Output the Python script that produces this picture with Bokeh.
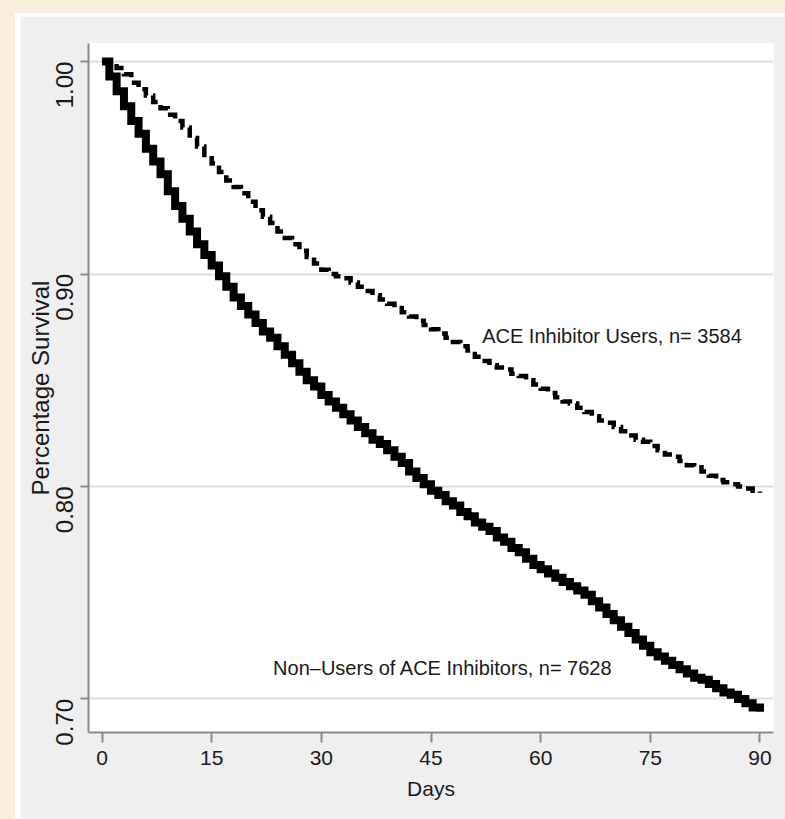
from bokeh.plotting import figure
from bokeh.models import FixedTicker, NumeralTickFormatter, Range1d, Label
from bokeh.layouts import column
from bokeh.embed import file_html
from bokeh.resources import INLINE
from math import pi

# ---------------- data ----------------
days = list(range(0, 91))

non_users = [
    1.000, 0.993, 0.986, 0.979, 0.972, 0.966, 0.959, 0.953, 0.947, 0.939,
    0.932, 0.926, 0.920, 0.914, 0.909, 0.904, 0.899, 0.894, 0.889, 0.885,
    0.881, 0.877, 0.873, 0.870, 0.866, 0.862, 0.858, 0.854, 0.850, 0.847,
    0.843, 0.840, 0.837, 0.834, 0.831, 0.828, 0.825, 0.822, 0.820, 0.817,
    0.814, 0.811, 0.807, 0.804, 0.801, 0.798, 0.796, 0.793, 0.791, 0.788,
    0.786, 0.783, 0.781, 0.779, 0.776, 0.774, 0.771, 0.769, 0.766, 0.763,
    0.761, 0.759, 0.757, 0.755, 0.753, 0.751, 0.749, 0.746, 0.743, 0.740,
    0.737, 0.734, 0.731, 0.728, 0.725, 0.722, 0.720, 0.718, 0.716, 0.714,
    0.712, 0.710, 0.709, 0.707, 0.705, 0.703, 0.702, 0.700, 0.698, 0.696,
    0.694,
]

ace_users = [
    1.000, 0.999, 0.997, 0.994, 0.990, 0.987, 0.984, 0.981, 0.978, 0.975,
    0.972, 0.969, 0.964, 0.960, 0.956, 0.952, 0.948, 0.944, 0.941, 0.938,
    0.934, 0.930, 0.927, 0.924, 0.920, 0.917, 0.914, 0.911, 0.908, 0.905,
    0.902, 0.900, 0.899, 0.898, 0.896, 0.894, 0.892, 0.890, 0.888, 0.886,
    0.884, 0.882, 0.880, 0.878, 0.876, 0.874, 0.872, 0.870, 0.868, 0.866,
    0.864, 0.861, 0.859, 0.857, 0.856, 0.855, 0.853, 0.852, 0.850, 0.848,
    0.846, 0.844, 0.842, 0.840, 0.839, 0.837, 0.835, 0.833, 0.831, 0.830,
    0.828, 0.826, 0.824, 0.822, 0.821, 0.819, 0.817, 0.815, 0.814, 0.812,
    0.810, 0.809, 0.807, 0.805, 0.803, 0.802, 0.801, 0.800, 0.799, 0.798,
    0.797,
]

x_ticks = [0, 15, 30, 45, 60, 75, 90]
y_ticks = [0.70, 0.80, 0.90, 1.00]

ace_label = "ACE Inhibitor Users, n= 3584"
non_label = "Non\u2013Users of ACE Inhibitors, n= 7628"
x_title = "Days"
y_title = "Percentage Survival"

# ---------------- styling ----------------
FONT = "Liberation Sans"
BEIGE = "#F9EEDB"
PANEL = "#EFEFEF"
AXIS_GRAY = "#8a8a8a"
TXT = "#1a1a1a"

p = figure(
    width=765, height=803,
    x_range=Range1d(-1.85, 91.85), y_range=Range1d(0.6842, 1.0085),
    output_backend="svg", toolbar_location=None,
    min_border_left=68, min_border_top=27, min_border_right=12, min_border_bottom=87,
    background_fill_color="white", border_fill_color=PANEL,
    outline_line_color=None,
)

p.step(days, non_users, mode="after", line_color="black", line_width=8,
       line_join="miter", line_cap="butt")
p.step(days, ace_users, mode="after", line_color="black", line_width=4.5,
       line_dash="11 6", line_join="miter", line_cap="butt")

# grid
p.xgrid.visible = False
p.ygrid.ticker = FixedTicker(ticks=y_ticks)
p.ygrid.grid_line_color = "#dedede"
p.ygrid.grid_line_width = 2

# x axis
xa = p.xaxis[0]
xa.ticker = FixedTicker(ticks=x_ticks)
xa.axis_line_color = AXIS_GRAY
xa.axis_line_width = 2
xa.major_tick_line_color = AXIS_GRAY
xa.major_tick_line_width = 2
xa.major_tick_out = 10
xa.major_tick_in = 0
xa.minor_tick_line_color = None
xa.major_label_text_font = FONT
xa.major_label_text_font_size = "21px"
xa.major_label_text_color = TXT
xa.major_label_standoff = 8
xa.axis_label = x_title
xa.axis_label_text_font = FONT
xa.axis_label_text_font_size = "21px"
xa.axis_label_text_font_style = "normal"
xa.axis_label_text_color = TXT
xa.axis_label_standoff = 9

# y axis
ya = p.yaxis[0]
ya.ticker = FixedTicker(ticks=y_ticks)
ya.formatter = NumeralTickFormatter(format="0.00")
ya.axis_line_color = AXIS_GRAY
ya.axis_line_width = 2
ya.major_tick_line_color = AXIS_GRAY
ya.major_tick_line_width = 2
ya.major_tick_out = 8
ya.major_tick_in = 0
ya.minor_tick_line_color = None
ya.major_label_orientation = pi / 2
ya.major_label_text_font = FONT
ya.major_label_text_font_size = "24px"
ya.major_label_text_color = TXT
ya.major_label_standoff = 16
ya.axis_label = y_title
ya.axis_label_text_font = FONT
ya.axis_label_text_font_size = "24px"
ya.axis_label_text_font_style = "normal"
ya.axis_label_text_color = TXT
ya.axis_label_standoff = -9

# in-plot labels
p.add_layout(Label(x=52.0, y=0.871, text=ace_label, text_font=FONT,
                   text_font_size="20px", text_color=TXT,
                   text_baseline="alphabetic", text_align="left"))
p.add_layout(Label(x=23.4, y=0.7144, text=non_label, text_font=FONT,
                   text_font_size="20px", text_color=TXT,
                   text_baseline="alphabetic", text_align="left"))

p.margin = (3, 0, 0, 5)
inner = column(p, styles={"background-color": "#ffffff"})
inner.margin = (13, 0, 0, 15)
outer = column(inner, styles={"background-color": BEIGE})

open("out.html", "w").write(file_html(outer, INLINE))
